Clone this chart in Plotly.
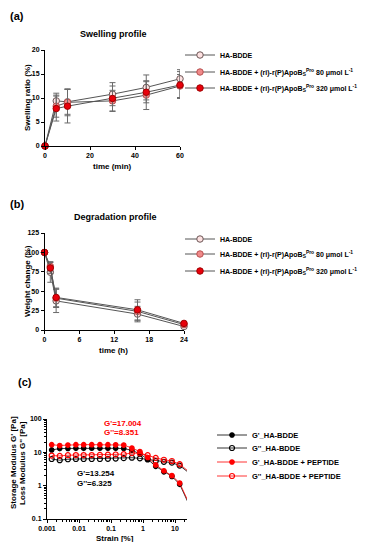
import plotly.graph_objects as go

W, H = 377, 550
OFF = 8  # page body margin of the html page
FW, FH = W - 2 * OFF, H - 2 * OFF
FONT = "Liberation Sans"

# ---------------- Panel (a) data: swelling ----------------
swell_time = [0, 5, 10, 30, 45, 60]
swell_ctrl = [0, 9.4, 9.2, 10.8, 12.2, 14.0]
swell_ctrl_err = [0, 1.6, 2.6, 2.4, 2.6, 1.9]
swell_80 = [0, 8.3, 9.1, 9.4, 10.6, 12.5]
swell_80_err = [0, 2.3, 2.8, 2.2, 3.0, 2.4]
swell_320 = [0, 7.8, 8.3, 9.9, 11.2, 12.7]
swell_320_err = [0, 2.6, 3.5, 2.6, 2.2, 2.8]

# ---------------- Panel (b) data: degradation ----------------
deg_time = [0, 1, 2, 16, 24]
deg_ctrl = [100, 74.5, 37.5, 20.5, 4.5]
deg_ctrl_err = [0, 13, 15, 10, 2]
deg_80 = [100, 82, 41, 24, 7]
deg_80_err = [0, 6, 12, 12, 2]
deg_320 = [100, 80, 42, 26, 8.5]
deg_320_err = [0, 7, 12, 13, 2]

# ---------------- Panel (c) data: strain sweep ----------------
strain = [0.0014, 0.0025, 0.0045, 0.008, 0.014, 0.025, 0.045, 0.08, 0.14,
          0.25, 0.45, 0.8, 1.4, 2.5, 4.5, 8, 14, 25]
gp_ha = [11.8, 13.0, 13.1, 13.2, 13.2, 13.3, 13.3, 13.3, 13.2,
         13.0, 11.5, 9.0, 6.2, 3.8, 2.6, 1.9, 1.1, 0.33]
gpp_ha = [6.3, 5.8, 6.2, 6.3, 6.3, 6.3, 6.3, 6.4, 6.5,
          6.7, 6.9, 6.6, 6.1, 5.5, 5.2, 4.9, 4.0, 2.6]
gp_pep = [17.0, 16.0, 16.5, 17.0, 17.0, 17.0, 17.0, 17.0, 16.8,
          16.5, 13.5, 10.5, 7.0, 4.2, 2.8, 2.0, 1.2, 0.36]
gpp_pep = [8.0, 7.8, 8.2, 8.3, 8.3, 8.3, 8.4, 8.5, 8.6,
           8.8, 9.5, 9.3, 8.2, 6.8, 6.0, 5.5, 4.4, 2.8]

swell_ticks = [0, 5, 10, 15, 20]
swell_xticks = [0, 20, 40, 60]
deg_ticks = [0, 25, 50, 75, 100, 125]
deg_xticks = [0, 6, 12, 18, 24]
strain_ticks = [0.001, 0.01, 0.1, 1, 10]
strain_labels = ["0.001", "0.01", "0.1", "1", "10"]
mod_ticks = [0.1, 1, 10, 100]
mod_labels = ["0.1", "1", "10", "100"]

names_ab = [
    "HA-BDDE",
    "HA-BDDE + (ri)-r(P)ApoB<sub>S</sub><sup>Pro</sup> 80 μmol L<sup>-1</sup>",
    "HA-BDDE + (ri)-r(P)ApoB<sub>S</sub><sup>Pro</sup> 320 μmol L<sup>-1</sup>",
]
names_c = ["G'_HA-BDDE", "G''_HA-BDDE", "G'_HA-BDDE + PEPTIDE", "G''_HA-BDDE + PEPTIDE"]
fills = ["#fde1e1", "#f08a8a", "#e8000b"]
edges = ["#6b5555", "#b85050", "#a00000"]


def px_x(p):
    return (p - OFF) / FW


def px_y(p):
    return 1 - (p - OFF) / FH


fig = go.Figure()
legend_specs = {}
legend_no = [0]


def new_legend(row_y, text_x, size):
    legend_no[0] += 1
    key = "legend" if legend_no[0] == 1 else "legend%d" % legend_no[0]
    legend_specs[key] = dict(x=px_x(text_x - 33), y=px_y(row_y), xanchor="left",
                             yanchor="middle", bgcolor="rgba(0,0,0,0)",
                             font=dict(family=FONT, size=size, color="black", weight="bold"),
                             itemwidth=30, maxheight=80)
    return key


rows_a = [55, 72, 88]
rows_b = [239, 254, 271]
rows_c = [435, 448, 462, 476]

series_a = [(swell_ctrl, swell_ctrl_err), (swell_80, swell_80_err), (swell_320, swell_320_err)]
for i, (ys, es) in enumerate(series_a):
    fig.add_trace(go.Scatter(
        x=swell_time, y=ys, mode="lines+markers", name=names_ab[i],
        error_y=dict(type="data", array=es, color="#6a6a6a", thickness=1, width=3),
        line=dict(color="#555555", width=1),
        marker=dict(size=6.5, color=fills[i], line=dict(color=edges[i], width=1)),
        cliponaxis=False, xaxis="x", yaxis="y", legend=new_legend(rows_a[i], 213, 7)))

series_b = [(deg_ctrl, deg_ctrl_err), (deg_80, deg_80_err), (deg_320, deg_320_err)]
for i, (ys, es) in enumerate(series_b):
    fig.add_trace(go.Scatter(
        x=deg_time, y=ys, mode="lines+markers", name=names_ab[i],
        error_y=dict(type="data", array=es, color="#6a6a6a", thickness=1, width=3),
        line=dict(color="#555555", width=1),
        marker=dict(size=6.5, color=fills[i], line=dict(color=edges[i], width=1)),
        cliponaxis=False, xaxis="x2", yaxis="y2", legend=new_legend(rows_b[i], 213, 7)))

c_series = [
    (gp_ha, "black", "circle"),
    (gpp_ha, "black", "circle-open"),
    (gp_pep, "#ff0000", "circle"),
    (gpp_pep, "#ff0000", "circle-open"),
]
for k, (ys, col, sym) in enumerate(c_series):
    fig.add_trace(go.Scatter(
        x=strain, y=ys, mode="lines+markers", name=names_c[k],
        line=dict(color=col, width=0.8),
        marker=dict(size=4.5 if sym == "circle" else 5, symbol=sym, color=col,
                    line=dict(color=col, width=1.2)),
        cliponaxis=False, xaxis="x3", yaxis="y3", legend=new_legend(rows_c[k], 245, 7.5)))

tickfont = dict(family=FONT, size=7, color="black", weight="bold")
axis_common = dict(showline=True, linecolor="black", linewidth=1, ticks="outside",
                   ticklen=3, tickwidth=1, tickcolor="black", showgrid=False,
                   zeroline=False, tickfont=tickfont, automargin=False)

fig.update_layout(
    width=FW, height=FH, margin=dict(l=0, r=0, t=0, b=0, pad=0, autoexpand=False),
    paper_bgcolor="white", plot_bgcolor="white",
    font=dict(family=FONT, color="black"),
    xaxis=dict(domain=[px_x(45), px_x(180)], range=[0, 60], tickvals=swell_xticks,
               anchor="y", **axis_common),
    yaxis=dict(domain=[px_y(146), px_y(50)], range=[0, 20], tickvals=swell_ticks,
               anchor="x", **axis_common),
    xaxis2=dict(domain=[px_x(44.5), px_x(184)], range=[0, 24], tickvals=deg_xticks,
                anchor="y2", **axis_common),
    yaxis2=dict(domain=[px_y(330), px_y(233)], range=[0, 125], tickvals=deg_ticks,
                anchor="x2", **axis_common),
    xaxis3=dict(domain=[px_x(47), px_x(187)], type="log", range=[-3, 1.375],
                tickvals=strain_ticks, ticktext=strain_labels, anchor="y3",
                minor=dict(ticks="outside", ticklen=2, tickcolor="black", dtick="D1"),
                **axis_common),
    yaxis3=dict(domain=[px_y(519), px_y(419)], type="log", range=[-1, 2],
                tickvals=mod_ticks, ticktext=mod_labels, anchor="x3",
                minor=dict(ticks="outside", ticklen=2, tickcolor="black", dtick="D1"),
                **axis_common),
    showlegend=True,
    **legend_specs,
)


def ann(text, x, y, size=8, angle=0, color="black", xanchor="center", yanchor="middle"):
    fig.add_annotation(text=text, x=px_x(x), y=px_y(y), xref="paper", yref="paper",
                       showarrow=False, textangle=angle, xanchor=xanchor, yanchor=yanchor,
                       font=dict(family=FONT, size=size, color=color, weight="bold"))


# panel labels
ann("(a)", 8, 16, size=11, xanchor="left")
ann("(b)", 8, 204, size=11, xanchor="left")
ann("(c)", 16, 382, size=11, xanchor="left")
# titles
ann("Swelling profile", 113, 34, size=9)
ann("Degradation profile", 115, 217, size=9)
# axis titles
ann("time (min)", 112, 167, size=8)
ann("time (h)", 113, 350, size=8)
ann("Swelling ratio (%)", 28, 98, size=8, angle=-90)
ann("Weight change (%)", 27, 281, size=8, angle=-90)
ann("Strain [%]", 115, 538, size=8)
ann("Storage Modulus G' [Pa]", 13, 463, size=8, angle=-90)
ann("Loss Modulus G'' [Pa]", 22, 463, size=8, angle=-90)
# value annotations in (c)
ann("G'=17.004", 102, 423, size=8, color="#ff0000", xanchor="left")
ann("G''=8.351", 102, 433, size=8, color="#ff0000", xanchor="left")
ann("G'=13.254", 75, 473, size=8, xanchor="left")
ann("G''=6.325", 75, 483, size=8, xanchor="left")

fig.write_html("out.html")
